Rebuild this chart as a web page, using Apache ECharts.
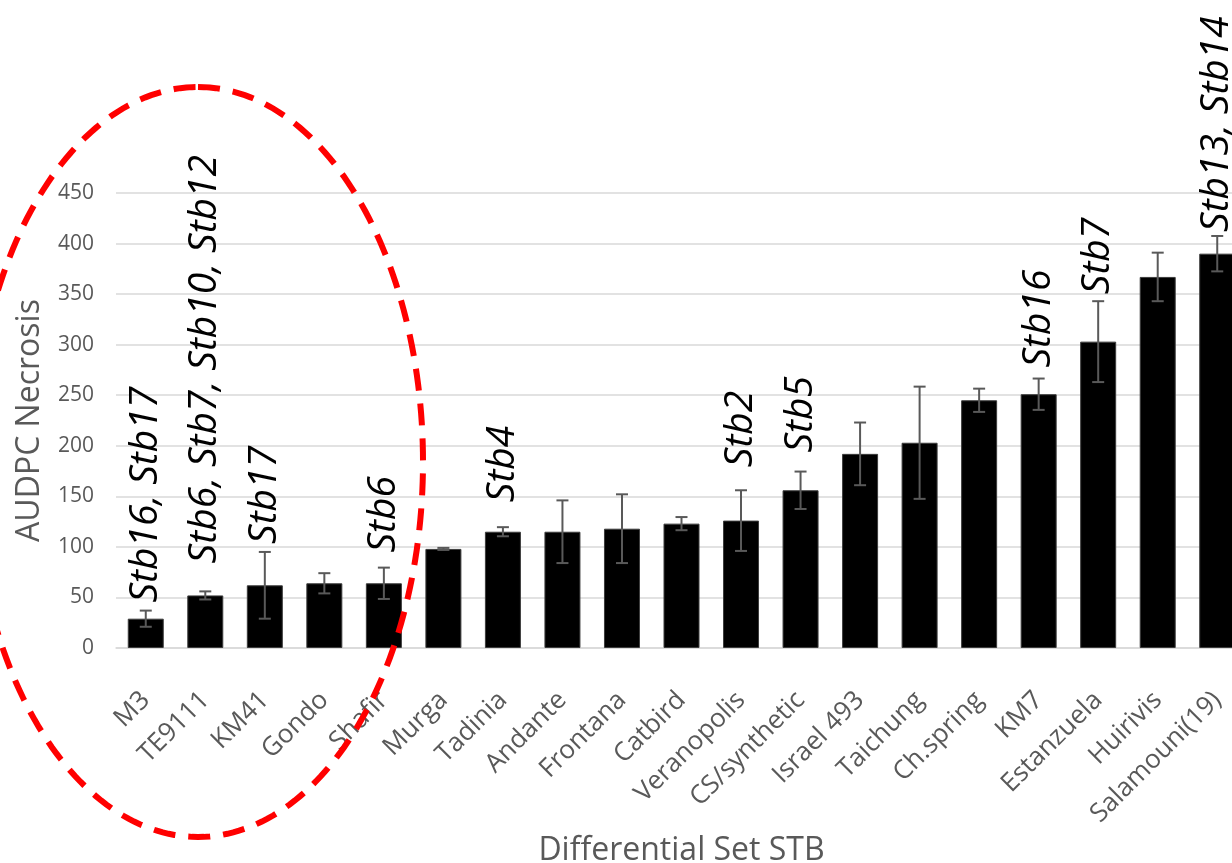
<!DOCTYPE html>
<html>
<head>
<meta charset="utf-8">
<script src="https://cdn.jsdelivr.net/npm/echarts@6/dist/echarts.min.js"></script>
<style>
  html, body { margin: 0; padding: 0; background: #ffffff; }
  #chart { width: 1232px; height: 863px; }
</style>
</head>
<body>
<div id="chart"></div>
<script>
// Wheat differential cultivars, ordered by necrosis
const categories = ['M3', 'TE9111', 'KM41', 'Gondo', 'Shafir', 'Murga', 'Tadinia', 'Andante',
  'Frontana', 'Catbird', 'Veranopolis', 'CS/synthetic', 'Israel 493', 'Taichung', 'Ch.spring',
  'KM7', 'Estanzuela', 'Huirivis', 'Salamouni(19)'];

// Mean AUDPC of necrosis per cultivar
const necrosis = [29, 52, 62, 64, 64, 98, 115, 115, 118, 123, 126, 156, 192, 203, 245, 251, 303, 367, 390];

// Standard error (half-length of each error bar)
const necrosisErr = [8, 4, 33, 10, 15.5, 1, 4.5, 31, 34, 6.5, 30, 18.5, 31, 55.5, 11.5, 15.5, 40, 24, 17.5];

// Known Stb resistance genes carried by each cultivar
const stbGenes = ['Stb16, Stb17', 'Stb6, Stb7, Stb10, Stb12', 'Stb17', '', 'Stb6', '', 'Stb4', '', '',
  '', 'Stb2', 'Stb5', '', '', '', 'Stb16', 'Stb7', '', 'Stb13, Stb14'];

// Y axis ticks
const yTicks = { min: 0, max: 450, step: 50 };

// Layout: pixel gap between the top of an error bar and its gene label
const labelGap = [8, 28, 8, 0, 15, 0, 25, 0, 0, 0, 23, 19, 0, 0, 0, 11, 7, 0, 4];

const FONT = '"Open Sans", "Noto Sans", sans-serif';
const GREY = '#595959';

const errRows = categories.map((c, i) => [i, necrosis[i], necrosisErr[i]]);
const geneRows = [];
categories.forEach((c, i) => {
  if (stbGenes[i]) geneRows.push([i, necrosis[i] + necrosisErr[i], stbGenes[i], labelGap[i]]);
});

// Dashed ellipse grouping the resistant cultivars
const ring = { cx: 198, cy: 462, rx: 225, ry: 375 };
const ringPts = [];
for (let k = 0; k < 240; k++) {
  const a = -Math.PI / 2 + (k / 240) * Math.PI * 2;
  ringPts.push([ring.cx + ring.rx * Math.cos(a), ring.cy + ring.ry * Math.sin(a)]);
}

const chart = echarts.init(document.getElementById('chart'), null, { renderer: 'canvas' });

chart.setOption({
  backgroundColor: '#ffffff',
  animation: false,
  // the last bar runs past the right edge of the page
  grid: { left: 116, top: 193, width: 1131, height: 455, containLabel: false, outerBoundsMode: 'none' },
  xAxis: {
    type: 'category',
    data: categories,
    axisLine: { show: true, lineStyle: { color: '#d9d9d9', width: 1.5 } },
    axisTick: { show: false },
    axisLabel: {
      interval: 0, rotate: 45, margin: 48,
      align: 'right', verticalAlign: 'middle',
      fontFamily: FONT, fontSize: 26, color: GREY
    },
    name: 'Differential Set STB',
    nameLocation: 'middle',
    nameGap: 184,
    nameTextStyle: { fontFamily: FONT, fontSize: 32, color: GREY }
  },
  yAxis: {
    type: 'value',
    min: yTicks.min, max: yTicks.max, interval: yTicks.step,
    axisLine: { show: false },
    axisTick: { show: false },
    axisLabel: { margin: 22, fontFamily: FONT, fontSize: 21, color: GREY },
    splitLine: { lineStyle: { color: '#d9d9d9', width: 1.5 } },
    name: 'AUDPC Necrosis',
    nameLocation: 'middle',
    nameGap: 70,
    nameTextStyle: { fontFamily: FONT, fontSize: 32, color: GREY }
  },
  series: [
    {
      type: 'bar',
      data: necrosis,
      barWidth: 36,
      itemStyle: { color: '#000000', borderColor: '#3c3c3c', borderWidth: 1 },
      z: 2
    },
    {
      type: 'custom',
      data: errRows,
      encode: { x: 0, y: 1 },
      z: 3,
      renderItem: function (params, api) {
        const i = api.value(0), m = api.value(1), e = api.value(2);
        const hi = api.coord([i, m + e]);
        const lo = api.coord([i, m - e]);
        const half = 6;
        const st = { stroke: GREY, lineWidth: 2 };
        return {
          type: 'group',
          children: [
            { type: 'line', shape: { x1: hi[0], y1: hi[1], x2: lo[0], y2: lo[1] }, style: st },
            { type: 'line', shape: { x1: hi[0] - half, y1: hi[1], x2: hi[0] + half, y2: hi[1] }, style: st },
            { type: 'line', shape: { x1: lo[0] - half, y1: lo[1], x2: lo[0] + half, y2: lo[1] }, style: st }
          ]
        };
      }
    },
    {
      type: 'custom',
      data: geneRows,
      encode: { x: 0, y: 1 },
      clip: false,
      z: 4,
      renderItem: function (params, api) {
        const row = geneRows[params.dataIndex];
        const p = api.coord([row[0], row[1]]);
        return {
          type: 'text',
          x: p[0],
          y: p[1] - row[3],
          rotation: Math.PI / 2,
          style: {
            text: row[2],
            fontFamily: FONT,
            fontSize: 39,
            fontStyle: 'italic',
            fill: '#000000',
            align: 'left',
            verticalAlign: 'middle'
          }
        };
      }
    }
  ],
  graphic: [
    {
      type: 'polygon',
      shape: { points: ringPts },
      style: { fill: 'none', stroke: '#ff0000', lineWidth: 6, lineDash: [22, 13] },
      z: 100,
      silent: true
    }
  ]
});
</script>
</body>
</html>
